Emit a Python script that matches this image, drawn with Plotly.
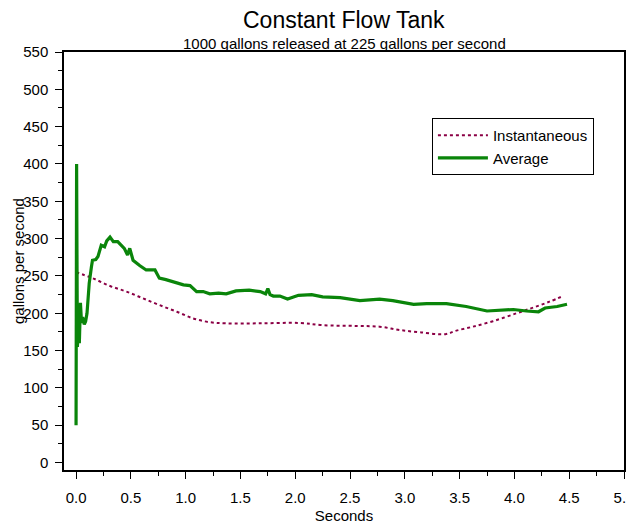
import plotly.graph_objects as go

# Average flow (gallons per second) vs seconds
avg_t = [0.0, 0.005, 0.012, 0.02, 0.03, 0.04, 0.05, 0.06, 0.075, 0.087, 0.1, 0.105,
         0.12, 0.14, 0.15, 0.18, 0.2, 0.23, 0.26, 0.28, 0.31, 0.34, 0.38, 0.44, 0.47,
         0.49, 0.52, 0.58, 0.64, 0.72, 0.76, 0.82, 0.88, 0.98, 1.04, 1.1, 1.16, 1.22,
         1.3, 1.37, 1.46, 1.58, 1.68, 1.73, 1.75, 1.77, 1.8, 1.86, 1.93, 2.03, 2.15,
         2.25, 2.41, 2.59, 2.77, 2.89, 3.08, 3.2, 3.38, 3.56, 3.75, 3.87, 3.99, 4.11,
         4.22, 4.28, 4.39, 4.48]
avg_q = [50, 400, 155, 175, 160, 214, 187, 195, 185, 189, 200, 209,
         240, 262, 271, 272, 276, 291, 289, 297, 302, 296, 296, 287, 278,
         287, 271, 264, 258, 258, 247, 245, 242, 238, 237, 229, 229, 226,
         227, 226, 230, 231, 229, 226, 233, 225, 223, 223, 219, 224, 225,
         222, 221, 217, 219, 217, 212, 213, 213, 209, 203, 204, 205, 203,
         202, 207, 209, 212]

# Instantaneous flow
inst_t = [0.0, 0.15, 0.31, 0.46, 0.61, 0.76, 0.92, 1.07, 1.22, 1.37, 1.68, 2.04,
          2.25, 2.56, 2.77, 2.95, 3.14, 3.37, 3.47, 3.62, 3.81, 4.02, 4.17, 4.32, 4.45]
inst_q = [255, 247, 236.5, 229, 220, 211, 202, 193, 188, 186.5, 186.5, 187,
          184, 183, 182, 177.6, 174.5, 172, 176.7, 182, 189.6, 200, 207.5, 215.5, 223.5]

x_ticks = [0.0, 0.5, 1.0, 1.5, 2.0, 2.5, 3.0, 3.5, 4.0, 4.5, 5.0]
y_ticks = [0, 50, 100, 150, 200, 250, 300, 350, 400, 450, 500, 550]

FONT = "Liberation Sans, Arial, sans-serif"

fig = go.Figure()
fig.add_trace(go.Scatter(
    x=inst_t, y=inst_q, mode="lines", name="Instantaneous",
    line=dict(color="#8B0045", width=2, dash="dot", shape="spline"),
))
fig.add_trace(go.Scatter(
    x=avg_t, y=avg_q, mode="lines", name="Average",
    line=dict(color="#0A850A", width=3.2),
))

# the page body adds an 8px margin, so the figure is sized to fit inside it
fig.update_layout(
    width=626, height=519,
    margin=dict(l=56, r=10, t=44, b=57),
    paper_bgcolor="white", plot_bgcolor="white",
    font=dict(family=FONT, size=15, color="black"),
    showlegend=True,
    legend=dict(
        x=0.657, y=0.842, xanchor="left", yanchor="top",
        bordercolor="black", borderwidth=1, bgcolor="white",
        font=dict(family=FONT, size=15, color="black"),
        itemwidth=50, tracegroupgap=0,
    ),
    annotations=[
        dict(text="Constant Flow Tank", x=0.5, y=1, xref="paper", yref="paper",
             yshift=17, showarrow=False, font=dict(family=FONT, size=23),
             xanchor="center", yanchor="bottom"),
        dict(text="1000 gallons released at 225 gallons per second", x=0.5, y=1,
             xref="paper", yref="paper", yshift=-2, showarrow=False,
             font=dict(family=FONT, size=15), xanchor="center", yanchor="bottom"),
        dict(text="gallons per second", x=0, y=0.5, xref="paper", yref="paper",
             xshift=-46, showarrow=False, textangle=-90,
             font=dict(family=FONT, size=15), xanchor="center", yanchor="middle"),
    ],
)

fig.update_xaxes(
    range=[-0.11, 5.0], tickvals=x_ticks,
    ticktext=[f"{v:.1f}" for v in x_ticks],
    ticks="outside", ticklen=7, tickwidth=1, tickcolor="black",
    minor=dict(dtick=0.25, ticks="outside", ticklen=4, tickcolor="black", showgrid=False),
    showline=True, linecolor="black", linewidth=1.5, mirror=True,
    showgrid=False, zeroline=False, automargin=False,
    title=dict(text="Seconds", font=dict(family=FONT, size=15), standoff=6),
    tickfont=dict(family=FONT, size=15),
    ticklabelstandoff=6, ticklabeloverflow="allow",
)
fig.update_yaxes(
    range=[-10, 550], tickvals=y_ticks,
    ticks="outside", ticklen=7, tickwidth=1, tickcolor="black",
    minor=dict(dtick=25, ticks="outside", ticklen=4, tickcolor="black", showgrid=False),
    showline=True, linecolor="black", linewidth=1.5, mirror=True,
    showgrid=False, zeroline=False, automargin=False,
    tickfont=dict(family=FONT, size=15),
    ticklabelstandoff=4,
)

fig.write_html("out.html")
